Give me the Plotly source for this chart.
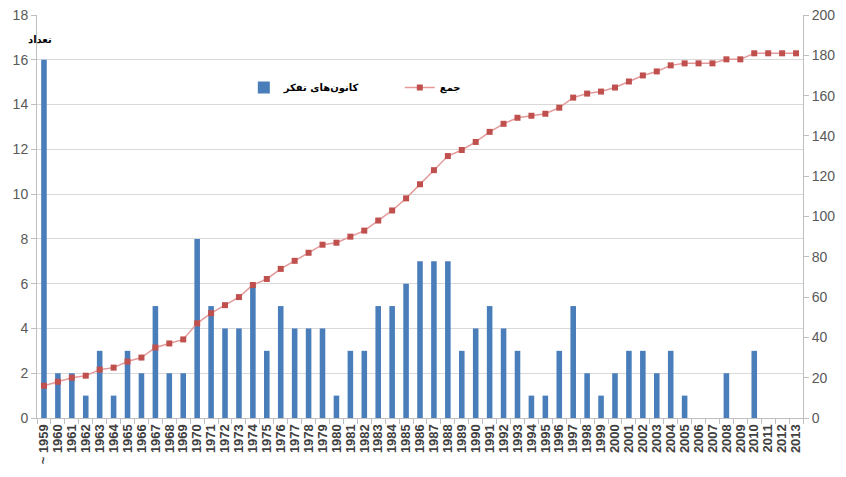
import plotly.graph_objects as go

years = ["~ 1959", "1960", "1961", "1962", "1963", "1964", "1965", "1966", "1967", "1968",
         "1969", "1970", "1971", "1972", "1973", "1974", "1975", "1976", "1977", "1978",
         "1979", "1980", "1981", "1982", "1983", "1984", "1985", "1986", "1987", "1988",
         "1989", "1990", "1991", "1992", "1993", "1994", "1995", "1996", "1997", "1998",
         "1999", "2000", "2001", "2002", "2003", "2004", "2005", "2006", "2007", "2008",
         "2009", "2010", "2011", "2012", "2013"]

think_tanks = [16, 2, 2, 1, 3, 1, 3, 2, 5, 2,
               2, 8, 5, 4, 4, 6, 3, 5, 4, 4,
               4, 1, 3, 3, 5, 5, 6, 7, 7, 7,
               3, 4, 5, 4, 3, 1, 1, 3, 5, 2,
               1, 2, 3, 3, 2, 3, 1, 0, 0, 2,
               0, 3, 0, 0, 0]

total = [16, 18, 20, 21, 24, 25, 28, 30, 35, 37,
         39, 47, 52, 56, 60, 66, 69, 74, 78, 82,
         86, 87, 90, 93, 98, 103, 109, 116, 123, 130,
         133, 137, 142, 146, 149, 150, 151, 154, 159, 161,
         162, 164, 167, 170, 172, 175, 176, 176, 176, 178,
         178, 181, 181, 181, 181]

left_ticks = [0, 2, 4, 6, 8, 10, 12, 14, 16, 18]
right_ticks = [0, 20, 40, 60, 80, 100, 120, 140, 160, 180, 200]

fig = go.Figure()
fig.add_trace(go.Bar(
    x=years, y=think_tanks, name="<b>کانون‌های تفکر</b>",
    marker=dict(color="#4A7EBB", line=dict(width=0)), width=0.4,
))
fig.add_trace(go.Scatter(
    x=years, y=total, name="<b>جمع</b>", yaxis="y2", mode="lines+markers",
    line=dict(color="#E49A9A", width=1.5),
    marker=dict(symbol="square", size=6, color="#C0504D"),
))

tick_font = dict(family="Liberation Sans, Arial, sans-serif", size=14, color="#595959")

fig.update_layout(
    width=838, height=469,
    margin=dict(l=29, r=43, t=7, b=59, autoexpand=False),
    paper_bgcolor="white", plot_bgcolor="white",
    showlegend=True,
    legend=dict(orientation="h", x=0.27, y=0.82, xanchor="left", yanchor="middle",
                font=dict(family="DejaVu Sans, sans-serif", size=10, color="#000000"),
                bgcolor="rgba(0,0,0,0)", itemwidth=30, entrywidth=111, traceorder="normal"),
    xaxis=dict(type="category", range=[-0.5, len(years) - 0.5], tickangle=-90, tickson="boundaries",
               tickmode="array", tickvals=years, ticktext=["<b>%s</b>" % y for y in years],
               ticks="outside", ticklen=5, tickcolor="#BFBFBF",
               showline=True, linecolor="#BFBFBF", linewidth=1,
               showgrid=False, zeroline=False, automargin=False,
               tickfont=dict(family="Liberation Sans, Arial, sans-serif", size=13, color="#404040")),
    yaxis=dict(range=[0, 18.0001], tickvals=left_ticks, showgrid=True, gridcolor="#D9D9D9",
               gridwidth=1, showline=True, linecolor="#BFBFBF", ticks="outside",
               ticklen=5, tickcolor="#BFBFBF", tickfont=tick_font, zeroline=False,
               automargin=False, ticklabeloverflow="allow"),
    yaxis2=dict(range=[0, 200.001], tickvals=right_ticks, overlaying="y", side="right",
                showgrid=False, showline=True, linecolor="#BFBFBF", ticks="outside",
                ticklen=5, tickcolor="#BFBFBF", tickfont=tick_font, zeroline=False,
                automargin=False, ticklabeloverflow="allow"),
    bargap=0.6,
    annotations=[dict(text="<b>تعداد</b>", xref="paper", yref="paper", x=0.004, y=0.938,
                      xanchor="center", yanchor="middle",
                      showarrow=False, font=dict(family="DejaVu Sans, sans-serif", size=10, color="#000"))],
)

fig.write_html("out.html")
